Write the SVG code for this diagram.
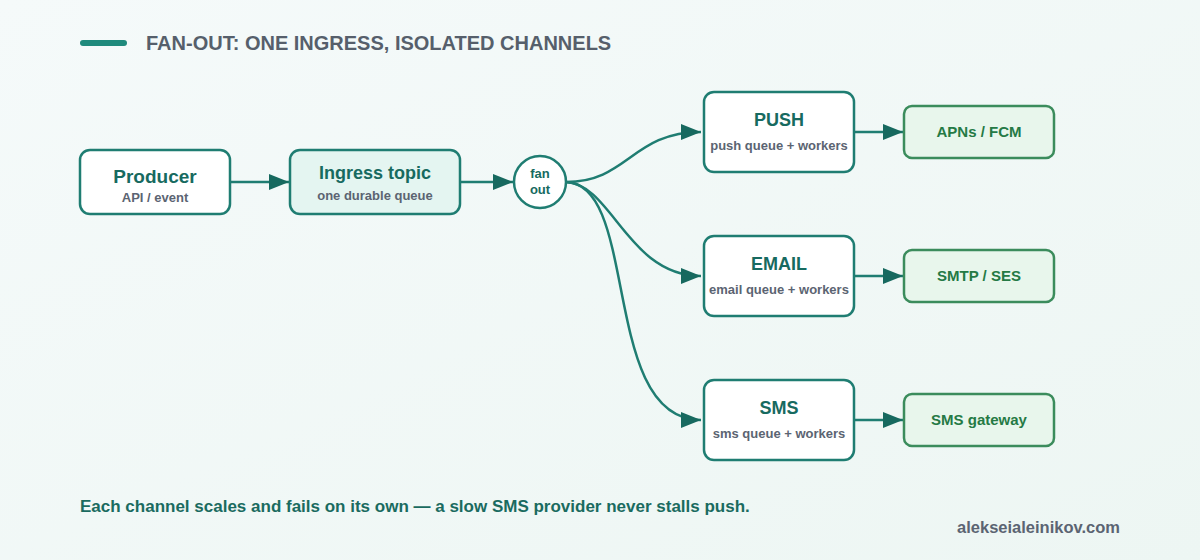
<svg xmlns="http://www.w3.org/2000/svg" width="1200" height="560" viewBox="0 0 1200 560">
<defs>
<linearGradient id="bg" x1="0" y1="0" x2="1" y2="1">
<stop offset="0" stop-color="#f5fafa"/>
<stop offset="1" stop-color="#edf6f3"/>
</linearGradient>
<marker id="ah" viewBox="0 0 20 16" refX="20" refY="8" markerWidth="20" markerHeight="16" markerUnits="userSpaceOnUse" orient="auto">
<path d="M0,0 L20,8 L0,16 z" fill="#17695f"/>
</marker>
</defs>
<style>
text{font-family:"Liberation Sans",Arial,sans-serif;font-weight:bold}
.box{fill:#ffffff;stroke:#1f7d72;stroke-width:2.5}
.ing{fill:#e4f5f1;stroke:#1f7d72;stroke-width:2.5}
.ext{fill:#e8f6ec;stroke:#3b8c5c;stroke-width:2.5}
.t{fill:#176a60;text-anchor:middle}
.s{fill:#5b6472;text-anchor:middle;font-size:13px}
.g{fill:#257a45;text-anchor:middle;font-size:15px}
.c{fill:none;stroke:#1f7d72;stroke-width:2.5}
</style>
<rect width="1200" height="560" fill="url(#bg)"/>
<line x1="83" y1="43" x2="124" y2="43" stroke="#1f8a7c" stroke-width="6" stroke-linecap="round"/>
<text x="146" y="50" font-size="20" fill="#565f6b">FAN-OUT: ONE INGRESS, ISOLATED CHANNELS</text>
<g id="connectors">
<path class="c" d="M230,182 L289,182" marker-end="url(#ah)"/>
<path class="c" d="M460,182 L513,182" marker-end="url(#ah)"/>
<path class="c" d="M566,182 C628,182 632,132 701,132" marker-end="url(#ah)"/>
<path class="c" d="M566,182 C612,184 628,276 701,276" marker-end="url(#ah)"/>
<path class="c" d="M566,182 C640,184 600,420 701,420" marker-end="url(#ah)"/>
<path class="c" d="M854,132 L903,132" marker-end="url(#ah)"/>
<path class="c" d="M854,276 L903,276" marker-end="url(#ah)"/>
<path class="c" d="M854,420 L903,420" marker-end="url(#ah)"/>
</g>
<g id="producer">
<rect class="box" x="80" y="150" width="150" height="64" rx="10"/>
<text class="t" x="155" y="183" font-size="19">Producer</text>
<text class="s" x="155" y="202">API / event</text>
</g>
<g id="ingress">
<rect class="ing" x="290" y="150" width="170" height="64" rx="10"/>
<text class="t" x="375" y="179" font-size="18">Ingress topic</text>
<text class="s" x="375" y="200">one durable queue</text>
</g>
<g id="fanout">
<circle cx="540" cy="182" r="26" fill="#ffffff" stroke="#1f7d72" stroke-width="2.5"/>
<text class="t" x="540" y="178" font-size="13">fan</text>
<text class="t" x="540" y="194" font-size="13">out</text>
</g>
<g id="push">
<rect class="box" x="704" y="92" width="150" height="80" rx="10"/>
<text class="t" x="779" y="126" font-size="18">PUSH</text>
<text class="s" x="779" y="150" font-size="12.5">push queue + workers</text>
</g>
<g id="email">
<rect class="box" x="704" y="236" width="150" height="80" rx="10"/>
<text class="t" x="779" y="270" font-size="18">EMAIL</text>
<text class="s" x="779" y="294">email queue + workers</text>
</g>
<g id="sms">
<rect class="box" x="704" y="380" width="150" height="80" rx="10"/>
<text class="t" x="779" y="414" font-size="18">SMS</text>
<text class="s" x="779" y="438">sms queue + workers</text>
</g>
<g id="apns">
<rect class="ext" x="904" y="106" width="150" height="52" rx="8"/>
<text class="g" x="979" y="137">APNs / FCM</text>
</g>
<g id="smtp">
<rect class="ext" x="904" y="250" width="150" height="52" rx="8"/>
<text class="g" x="979" y="281">SMTP / SES</text>
</g>
<g id="smsgw">
<rect class="ext" x="904" y="394" width="150" height="52" rx="8"/>
<text class="g" x="979" y="425">SMS gateway</text>
</g>
<text x="80" y="512" font-size="17" fill="#1a6b60">Each channel scales and fails on its own — a slow SMS provider never stalls push.</text>
<text x="1120" y="533" font-size="16.5" fill="#5b6472" text-anchor="end">alekseialeinikov.com</text>
</svg>
